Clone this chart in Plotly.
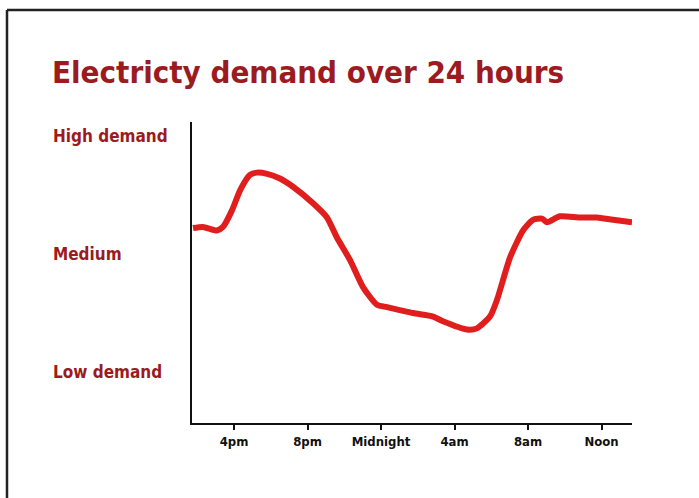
import plotly.graph_objects as go

# Hours since noon of the previous day (4pm = 4 ... noon = 24)
hours = [1.77, 2.31, 3.07, 3.40, 3.89, 4.33, 4.87, 5.25, 5.80, 6.50, 7.21, 8.30,
         9.06, 9.60, 10.31, 11.02, 11.78, 12.33, 13.74, 14.83, 15.37, 16.68, 17.22,
         17.93, 18.31, 19.02, 19.73, 20.27, 20.76, 21.03, 21.74, 22.83, 23.76, 24.63, 25.66]
# Demand level: 0 = low, 1 = medium, 2 = high
demand = [1.22, 1.23, 1.20, 1.23, 1.37, 1.54, 1.67, 1.69, 1.68, 1.64, 1.57, 1.43,
          1.31, 1.14, 0.95, 0.72, 0.57, 0.55, 0.50, 0.47, 0.43, 0.36, 0.37,
          0.47, 0.61, 0.97, 1.20, 1.29, 1.30, 1.27, 1.32, 1.31, 1.31, 1.29, 1.27]

tick_hours = [4, 8, 12, 16, 20, 24]
tick_labels = ["4pm", "8pm", "Midnight", "4am", "8am", "Noon"]
level_values = [2, 1, 0]
level_labels = ["High demand", "Medium", "Low demand"]

title_text = "Electricty demand over 24 hours"

dark_red = "#9b1b20"
cond_font = "Liberation Sans Narrow, DejaVu Sans Condensed, DejaVu Sans, sans-serif"

fig = go.Figure()
fig.add_trace(go.Scatter(
    x=hours, y=demand, mode="lines",
    line=dict(color="#e01e1e", width=6, shape="spline", smoothing=0.6),
    hoverinfo="skip", showlegend=False,
))

W, H = 699, 498
L, R, T, B = 192, 67, 122, 75
pw, ph = W - L - R, H - T - B

def px_x(p):
    return (p - L) / pw

def px_y(p):
    return (H - B - p) / ph

fig.update_layout(
    width=W, height=H,
    margin=dict(l=L, r=R, t=T, b=B),
    paper_bgcolor="white", plot_bgcolor="white",
    showlegend=False,
    xaxis=dict(
        range=[1.714, 25.66], showgrid=False, zeroline=False,
        showline=True, linecolor="#111", linewidth=2,
        tickmode="array", tickvals=tick_hours, ticktext=tick_labels,
        ticks="outside", ticklen=5, tickwidth=1.5, tickcolor="#111",
        tickfont=dict(family="DejaVu Sans Condensed, DejaVu Sans", size=13, color="#111", weight="bold"),
    ),
    yaxis=dict(
        range=[-0.432, 2.119], showgrid=False, zeroline=False,
        showline=True, linecolor="#111", linewidth=2,
        showticklabels=False, ticks="",
    ),
    shapes=[
        dict(type="line", xref="paper", yref="paper",
             x0=px_x(7), x1=px_x(705), y0=px_y(10), y1=px_y(10),
             line=dict(color="#222", width=2.5)),
        dict(type="line", xref="paper", yref="paper",
             x0=px_x(7), x1=px_x(7), y0=px_y(10), y1=px_y(505),
             line=dict(color="#222", width=2.5)),
    ],
)

fig.add_annotation(
    text="<b>" + title_text + "</b>", xref="paper", yref="paper",
    x=px_x(50), y=px_y(72), xanchor="left", yanchor="middle", showarrow=False,
    font=dict(family=cond_font, size=31, color=dark_red),
)

for v, lab in zip(level_values, level_labels):
    fig.add_annotation(
        text="<b>" + lab + "</b>", xref="paper", yref="y",
        x=px_x(51), y=v, xanchor="left", yanchor="middle", showarrow=False,
        font=dict(family=cond_font, size=17, color=dark_red),
    )

fig.write_html("out.html", config={"displayModeBar": False},
               post_script="document.body.style.margin='0px';")
